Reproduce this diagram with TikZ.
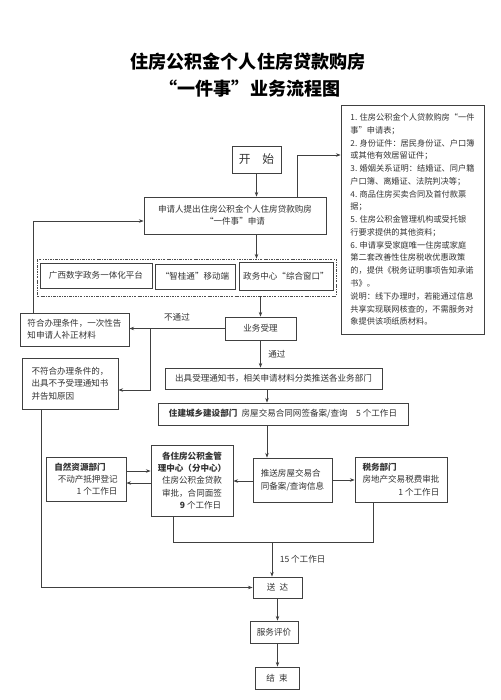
\documentclass[tikz,border=0pt]{standalone}
\usepackage{fontspec}
\setmainfont{Noto Sans CJK SC}
\usetikzlibrary{arrows.meta}
\tikzset{
  boxsize/.style 2 args={minimum width=#1*0.03cm, minimum height=#2*0.03cm},
  box/.style={draw=black!75, line width=0.7pt, inner sep=1.5pt, text=black!80,
    font=\fontsize{7.3}{10.5}\selectfont},
  groupbox/.style={draw=black!70, line width=0.6pt,
    dash pattern=on 2pt off 1pt on 0.6pt off 1pt},
  title/.style={font=\fontsize{15.4}{18}\bfseries\selectfont, text=black},
  lbl/.style={font=\fontsize{7.3}{9}\selectfont, text=black!80},
  conn/.style={draw=black!75, line width=0.6pt},
  arr/.style={conn, -{Stealth[length=4pt,width=3pt]}},
}
\begin{document}
\begin{tikzpicture}[x=0.03cm, y=-0.03cm]
\useasboundingbox (0,0) rectangle (500,700);
\fill[white] (0,0) rectangle (500,700);
% title
\node[title] (title1) at (248,62) {住房公积金个人住房贷款购房};
\node[title] (title2) at (250,89) {“一件事”业务流程图};
% materials list
\node[box, boxsize={143}{229}, align=left, font=\fontsize{7}{10.9}\selectfont] (req) at (412.5,219.5) {%
1. 住房公积金个人贷款购房“一件\\
事”申请表；\\
2. 身份证件：居民身份证、户口簿\\
或其他有效居留证件；\\
3. 婚姻关系证明：结婚证、同户籍\\
户口簿、离婚证、法院判决等；\\
4. 商品住房买卖合同及首付款票\\
据；\\
5. 住房公积金管理机构或受托银\\
行要求提供的其他资料；\\
6. 申请享受家庭唯一住房或家庭\\
第二套改善性住房税收优惠政策\\
的，提供《税务证明事项告知承诺\\
书》。\\
说明：线下办理时，若能通过信息\\
共享实现联网核查的，不需服务对\\
象提供该项纸质材料。};
% main steps
\node[box, boxsize={49}{27}, font=\fontsize{10}{12}\selectfont] (start) at (256.5,159.5) {开\quad 始};
\node[box, boxsize={182}{37}, align=center] (apply) at (235,215.5) {申请人提出住房公积金个人住房贷款购房\\“一件事”申请};
\node[groupbox, boxsize={299}{37}] (group) at (186.5,277.5) {};
\node[box, boxsize={112}{25}] (web) at (96,275.5) {广西数字政务一体化平台};
\node[box, boxsize={80}{25}] (mobile) at (195,276.5) {“智桂通”移动端};
\node[box, boxsize={94}{28}] (window) at (286,276) {政务中心“综合窗口”};
\node[box, boxsize={71}{23}] (accept) at (260.5,328.5) {业务受理};
\node[box, boxsize={109}{33}, align=left] (supp) at (74.5,329.5) {符合办理条件，一次性告\\知申请人补正材料};
\node[box, boxsize={96}{51}, align=left] (reject) at (70,383.5) {不符合办理条件的，\\出具不予受理通知书\\并告知原因};
\node[box, boxsize={217}{21}] (notice) at (273.5,378.5) {出具受理通知书，相关申请材料分类推送各业务部门};
\node[box, boxsize={250}{22}] (housing) at (283,414) {\textbf{住建城乡建设部门}\enspace 房屋交易合同网签备案/查询\quad 5 个工作日};
\node[box, boxsize={79}{44}, align=left] (push) at (292.5,480) {推送房屋交易合\\同备案/查询信息};
\node[box, boxsize={92}{45}, align=left] (tax) at (401,479.5) {\textbf{税务部门}\\房地产交易税费审批\\\hspace*{4.2em}1 个工作日};
\node[box, boxsize={82}{71}, align=center] (fund) at (192,480.5) {\textbf{各住房公积金管}\\\textbf{理中心（分中心）}\\住房公积金贷款\\审批，合同面签\\\hspace*{2em}\textbf{9} 个工作日};
\node[box, boxsize={80}{44}, align=left] (land) at (86,479) {\textbf{自然资源部门}\\\hspace*{0.4em}不动产抵押登记\\\hspace*{2.6em}1 个工作日};
\node[box, boxsize={49}{21}] (deliver) at (277.5,587.5) {送\enspace 达};
\node[box, boxsize={48}{22}] (eval) at (274,632) {服务评价};
\node[box, boxsize={44}{22}] (finish) at (277,678) {结\enspace 束};
% bend points
\coordinate (k1) at (297,155);
\coordinate (k2) at (33,221);
\coordinate (k3) at (150,390);
\coordinate (k4) at (267,0);
\coordinate (k5) at (0,471);
\coordinate (k6) at (0,483);
\coordinate (k7) at (173,542);
\coordinate (k8) at (373,542);
\coordinate (k9) at (272,542);
\coordinate (k10) at (41,0);
% connectors
\draw[arr] (start.south) -- (apply.north -| start.south);
\draw[arr] (apply.north -| k1) |- (req.west |- k1);
\draw[arr] (supp.north -| k2) |- (apply.west |- k2);
\draw[arr] (apply.south -| start.south) -- (group.north -| start.south);
\draw[arr] (group.south -| accept.north) -- (accept.north);
\draw[arr] (accept.west) -- node[lbl, above=3pt] (nopass) {不通过} (supp.east |- accept.west);
\draw[arr] (accept.west -| k3) |- (reject.east |- k3);
\draw[arr] (accept.south) -- node[lbl, right=3pt] (pass) {通过} (notice.north -| accept.south);
\draw[arr] (notice.south -| k4) -- (housing.north -| k4);
\draw[arr] (housing.south -| k4) -- (push.north -| k4);
\draw[arr] (push.east) -- (tax.west |- push.east);
\draw[arr] ([yshift=-0.03cm]push.west) -- ([yshift=-0.03cm]fund.east |- push.west);
\draw[arr] (land.east |- k5) -- (fund.west |- k5);
\draw[arr] (fund.west |- k6) -- (land.east |- k6);
\draw[conn] (fund.south -| k7) -- (k7) -- (k8) -- (tax.south -| k8);
\draw[arr] (k9) -- node[lbl, right=3pt] (days) {15 个工作日} (deliver.north -| k9);
\draw[arr] (reject.south -| k10) |- (deliver.west);
\draw[arr] (deliver.south) -- (eval.north -| deliver.south);
\draw[arr] (eval.south -| deliver.south) -- (finish.north -| deliver.south);
\end{tikzpicture}
\end{document}
